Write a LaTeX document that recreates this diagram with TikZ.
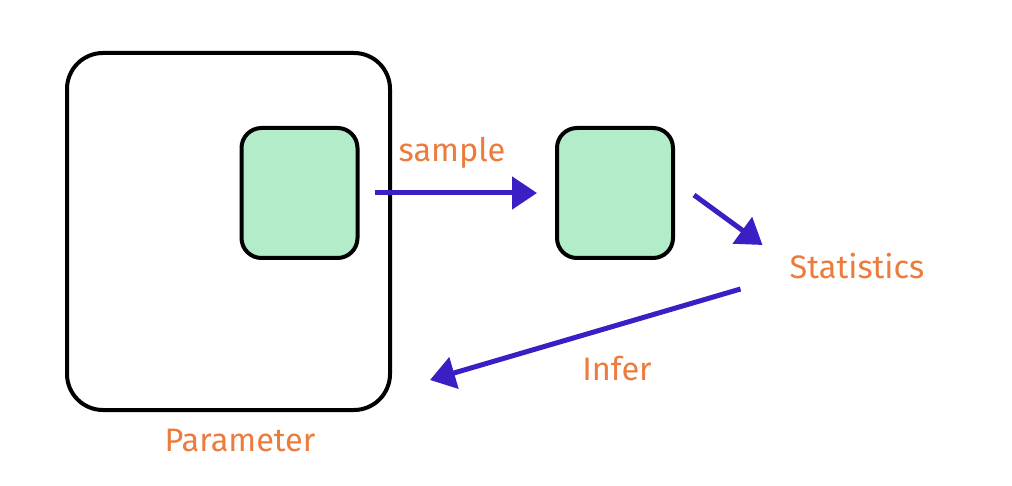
\documentclass[tikz,border=0pt]{standalone}
\usepackage{fontspec}
\setmainfont{Fira Sans}
\usetikzlibrary{arrows.meta, positioning}
\definecolor{sketchorange}{HTML}{EC7B3C}
\definecolor{sketchblue}{HTML}{3B1EC4}
\definecolor{sketchgreen}{HTML}{B2ECC8}
\tikzset{
  outerbox/.style={draw=black, line width=4pt, rounded corners=36pt, minimum width=323pt, minimum height=357pt, inner sep=0pt},
  greenbox/.style={draw=black, fill=sketchgreen, line width=4pt, rounded corners=20pt, minimum width=116pt, minimum height=130pt, inner sep=0pt},
  lbl/.style={text=sketchorange, font=\fontsize{32.5}{38}\selectfont, inner sep=0pt},
  flow/.style={draw=sketchblue, line width=5pt, -{Triangle[length=25pt, width=32pt]}},
}
\begin{document}
\begin{tikzpicture}[x=1pt, y=-1pt]
  \useasboundingbox (0,0) rectangle (1012,486);
  % boxes
  \node[outerbox] (param) at (228.5,231.5) {};
  \node[greenbox] (draw1) at (299.5,193) {};
  \node[greenbox] (draw2) at (615,193) {};
  % labels
  \node[lbl] (sample) at (452,153) {sample};
  \node[lbl] (stats) at (857,266) {Statistics};
  \node[lbl] (infer) at (617,369) {Infer};
  \node[lbl] (paramlbl) at (240,440) {Parameter};
  % arrows
  \draw[flow] ([xshift=15pt]draw1.east) -- ([xshift=-18pt]draw2.west);
  \draw[flow] ([xshift=19pt,yshift=-2pt]draw2.east) -- ([xshift=-27pt,yshift=21pt]stats.west);
  \draw[flow] ([xshift=-49pt,yshift=-23pt]stats.west) -- ([xshift=38pt,yshift=32pt]param.south east);
\end{tikzpicture}
\end{document}
